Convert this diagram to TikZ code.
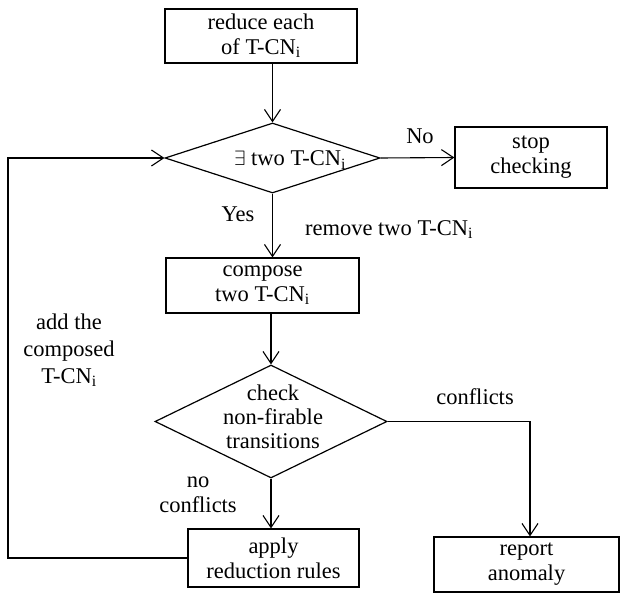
\documentclass[tikz,border=0pt]{standalone}
\usepackage{fontspec}
\setmainfont{Liberation Serif}
\usetikzlibrary{shapes.geometric,arrows.meta}
\newcommand{\tcn}{T-CN\textsubscript{i}}
\tikzset{
  arr/.style={draw, line width=1.1pt, -{Straight Barb[length=12pt,width=16pt]}},
  box/.style={draw, line width=1.2pt, rectangle, align=center},
  dia/.style={draw, line width=1.2pt, diamond},
  txt/.style={align=center}
}
\begin{document}
\begin{tikzpicture}[x=1pt,y=-1pt,
  every node/.style={font=\fontsize{22.5}{25}\selectfont, inner sep=0pt}]
\useasboundingbox (0,0) rectangle (625,594);
% boxes
\node[box, minimum width=192pt, minimum height=54pt] (b1) at (261,36) {reduce each\\of \tcn};
\node[dia, minimum width=215pt, minimum height=70pt] (d1) at (272.5,158) {};
\node[txt] (d1t) at (290,160) {$\exists$ two \tcn};
\node[box, minimum width=152pt, minimum height=61pt] (stop) at (531,157.5) {stop\\checking};
\node[box, minimum width=193pt, minimum height=55pt] (comp) at (262.5,285.5) {compose\\two \tcn};
\node[dia, minimum width=232pt, minimum height=113pt] (d2) at (271,421.5) {};
\node[txt, font=\fontsize{22.5}{24}\selectfont] (d2t) at (273,417) {check\\non-firable\\transitions};
\node[box, minimum width=171pt, minimum height=58pt] (apply) at (273.5,558) {apply\\reduction rules};
\node[box, minimum width=185pt, minimum height=55pt] (rep) at (526.5,564.5) {report\\anomaly};
% labels
\node[txt, anchor=base] (lno) at (420,143) {No};
\node[txt, anchor=base] (lyes) at (238,222) {Yes};
\node[txt, anchor=base] (lrem) at (389,235) {remove two \tcn};
\node[txt, font=\fontsize{22.5}{27}\selectfont] (ladd) at (69,350) {add the\\composed\\\tcn};
\node[txt, anchor=base] (lconf) at (475,404) {conflicts};
\node[txt] (lnoc) at (198,495) {no\\conflicts};
% connectors
\coordinate (lx) at (8,0);
\draw[arr] (d1.north |- b1.south) -- (d1.north);
\draw[arr] (d1.east) -- (stop.west);
\draw[arr] (d1.south) -- (d1.south |- comp.north);
\draw[arr] (d2.north |- comp.south) -- (d2.north);
\draw[arr] (d2.south) -- (d2.south |- apply.north);
\draw[arr] (d2.east) -| ([xshift=3.5pt]rep.north);
\draw[arr] (apply.west) -- (apply.west -| lx) |- (d1.west);
\end{tikzpicture}
\end{document}
